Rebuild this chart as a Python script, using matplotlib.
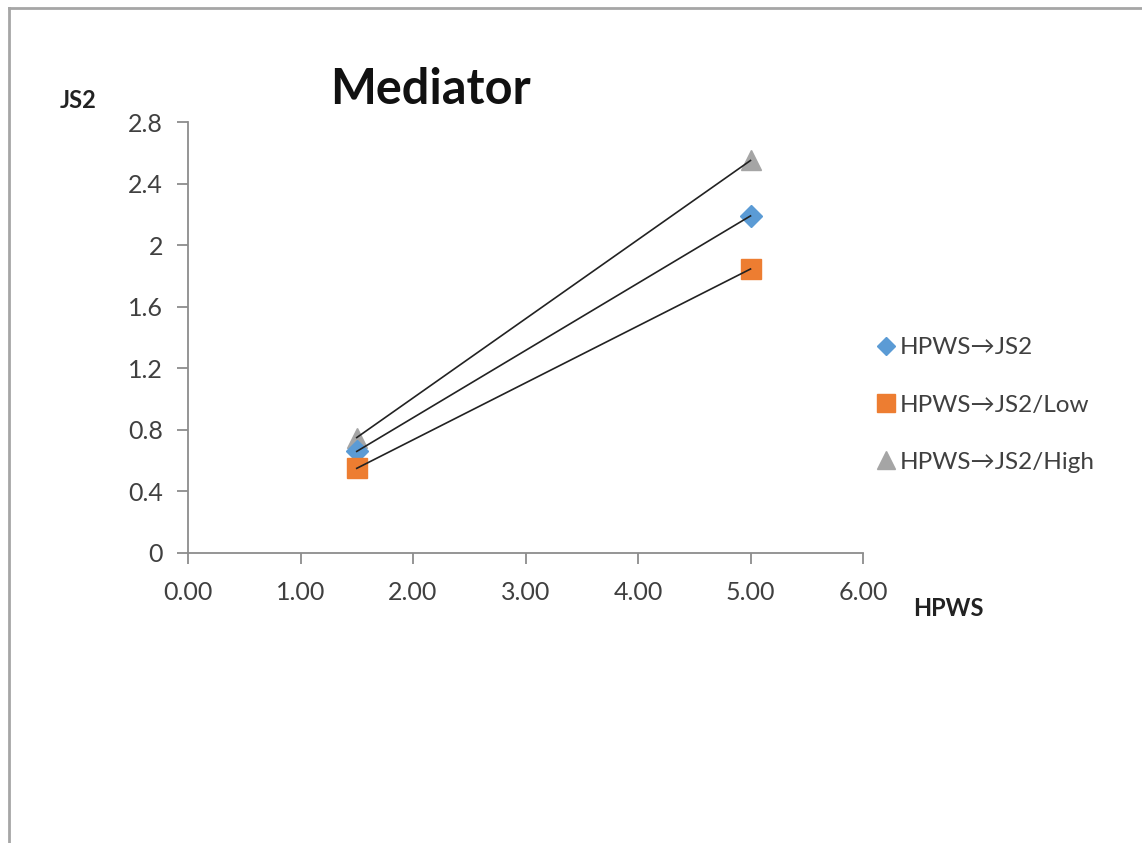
import matplotlib.pyplot as plt
from matplotlib.lines import Line2D

# data
x_vals = [1.5, 5.0]
js2 = [0.66, 2.19]
js2_low = [0.55, 1.845]
js2_high = [0.75, 2.55]

series_names = ['HPWS→JS2', 'HPWS→JS2/Low', 'HPWS→JS2/High']
series_vals = [js2, js2_low, js2_high]
series_colors = ['#5B9BD5', '#ED7D31', '#A5A5A5']
series_markers = ['D', 's', '^']
series_msize = [11, 15, 15]
series_z = [3.2, 3.3, 3.1]

x_ticks = [0, 1, 2, 3, 4, 5, 6]
y_ticks = [0, 0.4, 0.8, 1.2, 1.6, 2.0, 2.4, 2.8]
y_labels = ['0', '0.4', '0.8', '1.2', '1.6', '2', '2.4', '2.8']

font = ['Lato', 'DejaVu Sans']
plt.rcParams['font.family'] = font

W, H = 1142, 843
fig = plt.figure(figsize=(W / 100, H / 100), dpi=100)
ax = fig.add_axes([188 / W, 1 - 553 / H, (863 - 188) / W, (553 - 122) / H])

handles = []
for vals, c, m, ms, z in zip(series_vals, series_colors, series_markers, series_msize, series_z):
    ax.plot(x_vals, vals, linestyle='none', marker=m, markersize=ms, color=c, zorder=z)
    ax.plot(x_vals, vals, color='#222222', linewidth=1.2, zorder=4)
    handles.append(Line2D([], [], linestyle='none', marker=m, markersize=ms * 0.85, color=c))

ax.set_xlim(0, 6)
ax.set_ylim(0, 2.8)
ax.set_xticks(x_ticks)
ax.set_xticklabels([f'{v:.2f}' for v in x_ticks])
ax.set_yticks(y_ticks)
ax.set_yticklabels(y_labels)

for s in ['top', 'right']:
    ax.spines[s].set_visible(False)
for s in ['left', 'bottom']:
    ax.spines[s].set_color('#8c8c8c')
    ax.spines[s].set_linewidth(1.3)
ax.tick_params(axis='both', colors='#8c8c8c', length=8, width=1.3, labelsize=18,
               labelcolor='#404040')
ax.tick_params(axis='x', pad=12)
ax.tick_params(axis='y', pad=10)

fig.text(430 / W, 1 - 90 / H, 'Mediator', fontsize=35, fontweight='bold',
         ha='center', va='center', color='#111111')
fig.text(78 / W, 1 - 100 / H, 'JS2', fontsize=17, fontweight='bold',
         ha='center', va='center', color='#222222')
fig.text(948 / W, 1 - 608 / H, 'HPWS', fontsize=17, fontweight='bold',
         ha='center', va='center', color='#222222')

fig.legend(handles, series_names, loc='center left',
           bbox_to_anchor=(852 / W, 1 - 405 / H), frameon=False,
           fontsize=17.5, labelspacing=1.5, handletextpad=0.05,
           handlelength=1.0, labelcolor='#404040')

# outer chart border (left and top visible)
fig.add_artist(Line2D([8.5 / W, 8.5 / W], [0, 1 - 7.5 / H], color='#a6a6a6', linewidth=2,
                      transform=fig.transFigure))
fig.add_artist(Line2D([8.5 / W, 1], [1 - 7.5 / H, 1 - 7.5 / H], color='#a6a6a6', linewidth=2,
                      transform=fig.transFigure))

fig.savefig('out.png', dpi=100)
